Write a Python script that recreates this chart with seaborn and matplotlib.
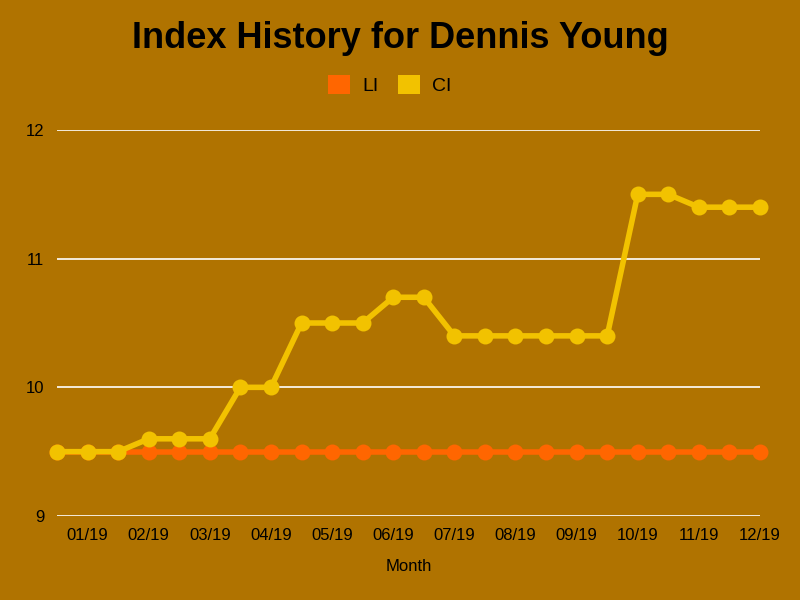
import matplotlib
matplotlib.use("Agg")
import matplotlib.pyplot as plt
from matplotlib.patches import Patch
import seaborn as sns
import pandas as pd

months = ["01/19", "02/19", "03/19", "04/19", "05/19", "06/19",
          "07/19", "08/19", "09/19", "10/19", "11/19", "12/19"]
li_values = [9.5] * 24
ci_values = [9.5, 9.5, 9.5, 9.6, 9.6, 9.6, 10.0, 10.0, 10.5, 10.5, 10.5, 10.7,
             10.7, 10.4, 10.4, 10.4, 10.4, 10.4, 10.4, 11.5, 11.5, 11.4, 11.4, 11.4]
series_names = ["LI", "CI"]
colors = {"LI": "#FF6600", "CI": "#F2C200"}
bg = "#B07300"

idx = list(range(len(ci_values)))
df = pd.DataFrame({
    "idx": idx + idx,
    "value": li_values + ci_values,
    "series": ["LI"] * len(li_values) + ["CI"] * len(ci_values),
})

sns.set_theme(style="white")
plt.rcParams["font.family"] = ["Liberation Sans", "DejaVu Sans"]

fig = plt.figure(figsize=(8, 6), dpi=100, facecolor=bg)
ax = fig.add_axes([57 / 800, 1 - 516 / 600, (760 - 57) / 800, (516 - 130) / 600])
ax.set_facecolor(bg)

sns.lineplot(data=df, x="idx", y="value", hue="series", hue_order=series_names,
             palette=colors, marker="o", markersize=11.5, markeredgewidth=0,
             linewidth=4, ax=ax, legend=False, clip_on=False, zorder=3)

ax.set_xlim(0, 23)
ax.set_ylim(9, 12)
ax.set_yticks([9, 10, 11, 12])
ax.set_yticklabels(["9", "10", "11", "12"], fontsize=12, color="black")
ax.set_xticks(list(range(1, 24, 2)))
ax.set_xticklabels(months, fontsize=12, color="black")
ax.tick_params(axis="both", length=0)
ax.tick_params(axis="y", pad=9)
ax.tick_params(axis="x", pad=9)
ax.grid(axis="y", color="white", linewidth=1.2)
ax.grid(axis="x", visible=False)
for s in ax.spines.values():
    s.set_visible(False)
ax.set_xlabel("Month", fontsize=12, color="black", labelpad=11.5)
ax.set_ylabel("")

fig.text(0.5, 1 - 48 / 600, "Index History for Dennis Young", ha="center", va="baseline",
         fontsize=26, fontweight="bold", color="black")

handles = [Patch(facecolor=colors[n], edgecolor="none") for n in series_names]
fig.legend(handles, series_names, loc="center", bbox_to_anchor=(390 / 800, 1 - 85 / 600),
           ncol=2, frameon=False, fontsize=14, handlelength=1.1, handleheight=1.1,
           handletextpad=0.65, columnspacing=1.0, labelcolor="black")

fig.savefig("out.png", dpi=100, facecolor=bg)
